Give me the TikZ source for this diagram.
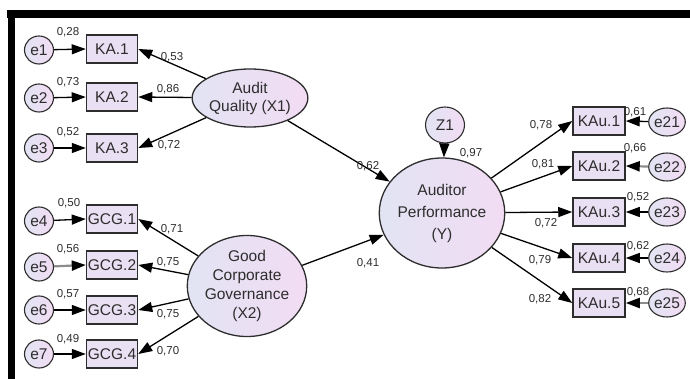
\documentclass[tikz,border=0pt]{standalone}
\usepackage{fontspec}
\setmainfont{Liberation Sans}
\usetikzlibrary{shapes,arrows.meta}
\definecolor{boxfill}{RGB}{234,224,243}
\definecolor{latleft}{RGB}{226,228,243}
\definecolor{latright}{RGB}{242,220,243}
\definecolor{ink}{RGB}{45,45,45}

\begin{document}
\begin{tikzpicture}[x=1pt,y=-1pt,
    obs/.style={draw=ink, line width=1.5pt, fill=boxfill, minimum width=51pt, minimum height=28pt,
        inner sep=0pt, text=ink, font=\fontsize{15.5}{18}\selectfont},
    err/.style={draw=ink, ellipse, line width=1.1pt, left color=latleft, right color=latright,
        minimum width=29pt, minimum height=28pt, inner sep=0pt, text=ink, font=\fontsize{15.5}{18}\selectfont},
    lat/.style={draw=ink, ellipse, line width=1.3pt, left color=latleft, right color=latright,
        inner sep=0pt, align=center, text=ink, font=\fontsize{15.5}{18}\selectfont},
    coef/.style={inner sep=0pt, text=ink, font=\fontsize{11.5}{13}\selectfont},
    path/.style={line width=1.3pt, draw=black, -{Triangle[length=14pt,width=10pt,color=black]}},
    faint/.style={path, draw=black!45, line width=2.2pt},
    ]
    \useasboundingbox (0,0) rectangle (690,379);

    % Frame bars
    \fill (7,10) rectangle (690,18);
    \fill (8,10) rectangle (15,379);

    % Latent variables
    \node[lat, minimum width=106pt, minimum height=58pt] (aq) at (250,98) {Audit\\Quality (X1)};
    \node[lat, minimum width=104pt, minimum height=93pt, font=\fontsize{15.5}{19}\selectfont] (gcg) at (247,286) {Good\\Corporate\\Governance\\(X2)};
    \node[lat, minimum width=120pt, minimum height=110pt, font=\fontsize{15.5}{22}\selectfont] (ap) at (442,213) {Auditor\\Performance\\(Y)};
    \node[err, minimum width=39pt, minimum height=36pt] (z1) at (445,125) {Z1};

    % Indicators of X1
    \node[obs] (ka1) at (112,49) {KA.1};
    \node[obs] (ka2) at (112,97) {KA.2};
    \node[obs] (ka3) at (112,148) {KA.3};
    \node[err] (e1) at (39,50) {e1};
    \node[err] (e2) at (39,98) {e2};
    \node[err] (e3) at (39,148) {e3};

    % Indicators of X2
    \node[obs] (gcg1) at (112,219) {GCG.1};
    \node[obs] (gcg2) at (112,265) {GCG.2};
    \node[obs] (gcg3) at (112,310) {GCG.3};
    \node[obs] (gcg4) at (112,354) {GCG.4};
    \node[err] (e4) at (39,221) {e4};
    \node[err] (e5) at (39,267) {e5};
    \node[err] (e6) at (39,310) {e6};
    \node[err] (e7) at (39,354) {e7};

    % Indicators of Y
    \node[obs, minimum width=52pt] (kau1) at (599,121) {KAu.1};
    \node[obs, minimum width=52pt] (kau2) at (599,166) {KAu.2};
    \node[obs, minimum width=52pt] (kau3) at (599,212) {KAu.3};
    \node[obs, minimum width=52pt] (kau4) at (599,258) {KAu.4};
    \node[obs, minimum width=52pt] (kau5) at (599,303) {KAu.5};
    \node[err] (e21) at (667,122) {e21};
    \node[err] (e22) at (667,167) {e22};
    \node[err] (e23) at (667,212) {e23};
    \node[err] (e24) at (667,258) {e24};
    \node[err] (e25) at (667,303) {e25};

    % Error terms
    \draw[path] (e1) -- (ka1.west);
    \draw[path] (e2) -- (ka2.west);
    \draw[path] (e3) -- (ka3.west);
    \draw[path] (e4) -- (gcg1.west);
    \draw[faint] (e5) -- (gcg2.west);
    \draw[path] (e6) -- (gcg3.west);
    \draw[path] (e7) -- (gcg4.west);
    \draw[path] (e21) -- (kau1.east);
    \draw[faint] (e22) -- (kau2.east);
    \draw[path] (e23) -- (kau3.east);
    \draw[path] (e24) -- (kau4.east);
    \draw[faint] (e25) -- (kau5.east);
    \draw[path] (z1) -- (ap);

    % Loadings and structural paths
    \draw[path] (aq) -- (ka1.east);
    \draw[path] (aq) -- (ka2.east);
    \draw[path] (aq) -- (ka3.east);
    \draw[path] (gcg) -- (gcg1.east);
    \draw[path] (gcg) -- (gcg2.east);
    \draw[path] (gcg) -- (gcg3.east);
    \draw[path] (gcg) -- (gcg4.east);
    \draw[path] (aq) -- (ap);
    \draw[path] (gcg) -- (ap);
    \draw[path] (ap) -- (kau1.west);
    \draw[path] (ap) -- (kau2.west);
    \draw[path] (ap) -- (kau3.west);
    \draw[path] (ap) -- (kau4.west);
    \draw[path] (ap) -- (kau5.west);

    % Estimates
    \node[coef] (r1) at (68,32) {0,28};
    \node[coef] (r2) at (68,82) {0,73};
    \node[coef] (r3) at (68,132) {0,52};
    \node[coef] (l1) at (172,57) {0,53};
    \node[coef] (l2) at (168,89) {0,86};
    \node[coef] (l3) at (169,145) {0,72};
    \node[coef] (r4) at (69,203) {0,50};
    \node[coef] (r5) at (68,249) {0,56};
    \node[coef] (r6) at (68,294) {0,57};
    \node[coef] (r7) at (68,339) {0,49};
    \node[coef] (l4) at (172,229) {0,71};
    \node[coef] (l5) at (168,262) {0,75};
    \node[coef] (l6) at (168,314) {0,75};
    \node[coef] (l7) at (168,351) {0,70};
    \node[coef] (b1) at (368,166) {0,62};
    \node[coef] (b2) at (368,263) {0,41};
    \node[coef] (rz) at (471,153) {0,97};
    \node[coef] (l21) at (541,125) {0,78};
    \node[coef] (l22) at (543,164) {0,81};
    \node[coef] (l23) at (546,223) {0,72};
    \node[coef] (l24) at (540,260) {0,79};
    \node[coef] (l25) at (540,299) {0,82};
    \node[coef] (r21) at (635,112) {0,61};
    \node[coef] (r22) at (635,148) {0,66};
    \node[coef] (r23) at (638,197) {0,52};
    \node[coef] (r24) at (638,246) {0,62};
    \node[coef] (r25) at (638,292) {0,68};
\end{tikzpicture}
\end{document}
